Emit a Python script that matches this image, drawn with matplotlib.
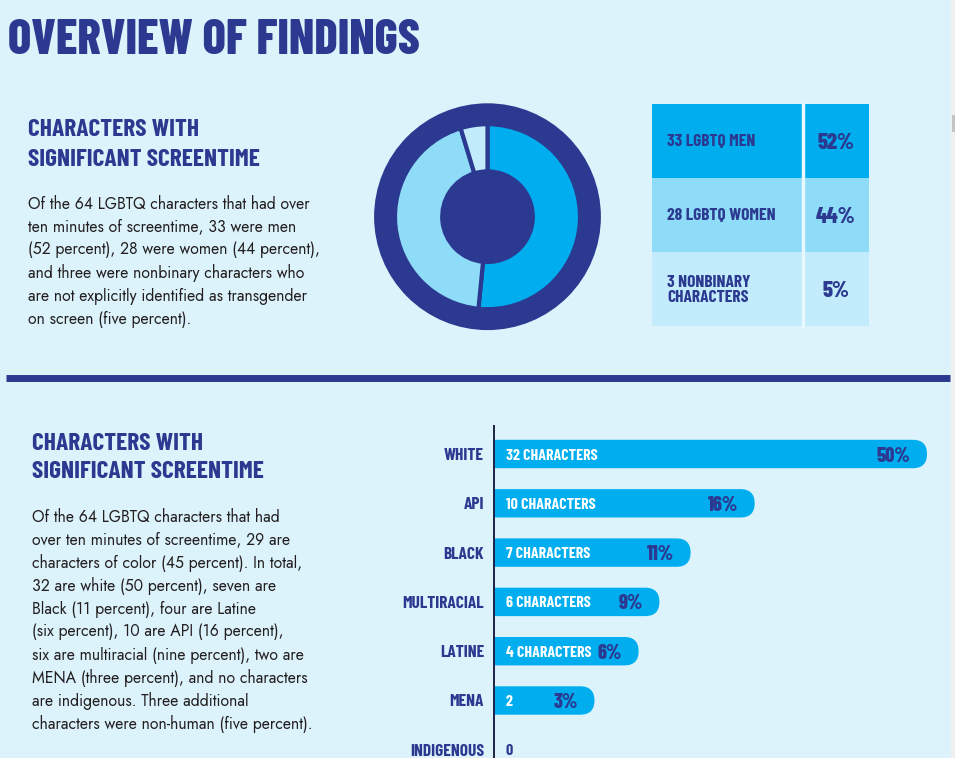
import matplotlib
matplotlib.use('Agg')
import matplotlib.pyplot as plt
from matplotlib.patches import Rectangle, Circle, FancyBboxPatch

# ---- data ----
gender_counts = [33, 28, 3]
gender_labels = ['LGBTQ MEN', 'LGBTQ WOMEN', 'NONBINARY\nCHARACTERS']
gender_pct = [52, 44, 5]

race_categories = ['WHITE', 'API', 'BLACK', 'MULTIRACIAL', 'LATINE', 'MENA', 'INDIGENOUS']
race_counts = [32, 10, 7, 6, 4, 2, 0]
race_pct = [50, 16, 11, 9, 6, 3, 0]
race_count_labels = ['32 CHARACTERS', '10 CHARACTERS', '7 CHARACTERS', '6 CHARACTERS',
                     '4 CHARACTERS', '2', '0']
# bar lengths as drawn in the infographic (not to scale), WHITE = 50
race_bar_length = [50, 30.1, 22.7, 19.1, 16.7, 11.6, 0]

text_top = ['Of the 64 LGBTQ characters that had over',
            'ten minutes of screentime, 33 were men',
            '(52 percent), 28 were women (44 percent),',
            'and three were nonbinary characters who',
            'are not explicitly identified as transgender',
            'on screen (five percent).']
text_bottom = ['Of the 64 LGBTQ characters that had',
               'over ten minutes of screentime, 29 are',
               'characters of color (45 percent). In total,',
               '32 are white (50 percent), seven are',
               'Black (11 percent), four are Latine',
               '(six percent), 10 are API (16 percent),',
               'six are multiracial (nine percent), two are',
               'MENA (three percent), and no characters',
               'are indigenous. Three additional',
               'characters were non-human (five percent).']

# ---- style ----
BG = '#DCF3FC'
NAVY = '#2B3990'
BLUE = '#00AEEF'
LIGHT = '#8EDCF8'
PALE = '#C2ECFB'
INK = '#231F20'
COND = ['Barlow Condensed', 'DejaVu Sans']
BODY = ['Jost', 'DejaVu Sans']

W, H = 955, 758
fig = plt.figure(figsize=(W / 100, H / 100), dpi=100)
fig.patch.set_facecolor(BG)

# pixel-coordinate canvas for text / table / rules
ax = fig.add_axes([0, 0, 1, 1])
ax.set_xlim(0, W)
ax.set_ylim(H, 0)
ax.axis('off')

ax.text(8, 37, 'OVERVIEW OF FINDINGS', fontsize=35, fontweight=800, family=COND,
        color=NAVY, ha='left', va='center_baseline')


def section(x, y, body):
    ax.text(x, y, 'CHARACTERS WITH', fontsize=18.3, fontweight=700, family=COND,
            color=NAVY, ha='left', va='center_baseline')
    ax.text(x, y + 29, 'SIGNIFICANT SCREENTIME', fontsize=18.3, fontweight=700, family=COND,
            color=NAVY, ha='left', va='center_baseline')
    for i, line in enumerate(body):
        ax.text(x, y + 74 + i * 23, line, fontsize=11.4, family=BODY, color=INK,
                ha='left', va='center_baseline')


section(28, 128, text_top)
section(32, 441, text_bottom)

# divider
ax.plot([6, 950], [377.5, 377.5], color=NAVY, lw=5, solid_capstyle='butt')

# table
row_colors = [BLUE, LIGHT, PALE]
tx0, tx1, tdiv, ty0, rh = 652, 869, 803, 104, 74
for i, (n, lab, p) in enumerate(zip(gender_counts, gender_labels, gender_pct)):
    top = ty0 + i * rh
    ax.add_patch(Rectangle((tx0, top), tx1 - tx0, rh, facecolor=row_colors[i], edgecolor='none'))
    ax.text(tx0 + 15, top + rh / 2 + 1, f'{n} {lab}', fontsize=12.6, fontweight=700, family=COND,
            color=NAVY, ha='left', va='center', linespacing=1.0)
    ax.text((tdiv + tx1) / 2, top + rh / 2, f'{p}%', fontsize=16, fontweight=800,
            family=COND, color=NAVY, ha='center', va='center_baseline')
ax.plot([tdiv, tdiv], [ty0, ty0 + 3 * rh], color='#E8F8FE', lw=2.5)

# scrollbar strip of the screenshot
ax.add_patch(Rectangle((951, 0), 4, H, facecolor='#F0F0F0', edgecolor='none'))
ax.add_patch(Rectangle((951.5, 115), 3.5, 17, facecolor='#C4C4C4', edgecolor='none'))

# ---- donut ----
cx, cy, R = 487.5, 216.7, 113.4
pad = 1.04
pax = fig.add_axes([(cx - R * pad) / W, 1 - (cy + R * pad) / H, 2 * R * pad / W, 2 * R * pad / H])
pax.add_patch(Circle((0, 0), 1, facecolor=NAVY, edgecolor='none'))
r_out, r_in = 92.5 / R, 45.3 / R
pax.pie(gender_counts, colors=row_colors, startangle=90, counterclock=False, radius=r_out,
        wedgeprops=dict(width=r_out - r_in, edgecolor=NAVY, linewidth=3))
pax.add_patch(Circle((0, 0), r_in, facecolor=NAVY, edgecolor='none', zorder=5))
pax.set_xlim(-pad, pad)
pax.set_ylim(-pad, pad)
pax.set_aspect('equal')
pax.axis('off')

# ---- bars ----
ax0, ytop, step, y_first = 494, 426, 49.3, 454
px_per_unit = 8.66
bax = fig.add_axes([ax0 / W, 0, (W - ax0) / W, (H - ytop) / H])
bax.set_facecolor('none')
bax.set_xlim(0, (W - ax0) / px_per_unit)
bax.set_ylim((H - y_first) / step, -(y_first - ytop) / step)
pos = list(range(len(race_categories)))
bar_h = 28.4 / step
bars = bax.barh(pos, race_bar_length, height=bar_h, color=BLUE)

# replace each rectangle with a bar whose right end is rounded
ratio = step / px_per_unit          # x-units per y-unit in pixels
for b in bars:
    b.set_visible(False)
    w = b.get_width()
    if w <= 0:
        continue
    r = b.get_height() / 2 * ratio
    fb = FancyBboxPatch((b.get_x() - r, b.get_y()), w + r, b.get_height(),
                        boxstyle=f'round,pad=0,rounding_size={r}',
                        mutation_aspect=1 / ratio, facecolor=BLUE, edgecolor='none')
    bax.add_patch(fb)

for p, lab, L, pc in zip(pos, race_count_labels, race_bar_length, race_pct):
    bax.annotate(lab, xy=(0, p), xytext=(8.6, 0), textcoords='offset points',
                 fontsize=11.5, fontweight=700, family=COND,
                 color='white' if L > 0 else NAVY, ha='left', va='center_baseline')
    if L > 0:
        bax.annotate(f'{pc}%', xy=(L, p), xytext=(-11.8, 0), textcoords='offset points',
                     fontsize=14.5, fontweight=800, family=COND, color=NAVY,
                     ha='right', va='center_baseline')

bax.set_yticks(pos, race_categories, fontsize=12.5, fontweight=700, family=COND, color=NAVY)
bax.set_xticks([])
bax.tick_params(axis='y', length=0, pad=7.2)
for s in ['top', 'right', 'bottom']:
    bax.spines[s].set_visible(False)
bax.spines['left'].set_color('#1E2347')
bax.spines['left'].set_linewidth(1.4)

fig.savefig('out.png', dpi=100, facecolor=BG)
